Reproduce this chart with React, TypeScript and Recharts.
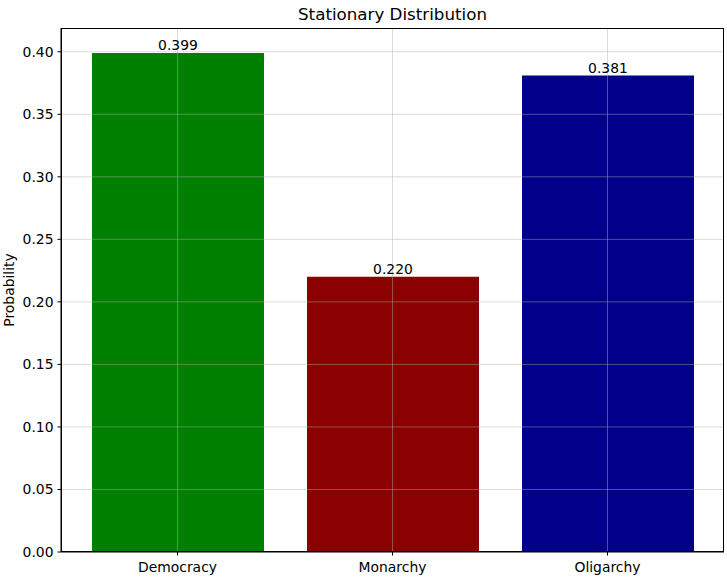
import { BarChart, Bar, XAxis, YAxis, Cell, LabelList, Label, ReferenceLine } from "recharts";

const states = ["Democracy", "Monarchy", "Oligarchy"];
const probabilities = [0.399, 0.22, 0.381];
const barColors = ["#008000", "#8b0000", "#00008b"];
const yTicks = [0, 0.05, 0.1, 0.15, 0.2, 0.25, 0.3, 0.35, 0.4];

const data = states.map((s, i) => ({ state: s, p: probabilities[i] }));

const FONT = "'DejaVu Sans', sans-serif";
const GRID = { stroke: "#b0b0b0", strokeOpacity: 0.45 };

export default function App() {
  return (
    <div style={{ position: "absolute", left: 0, top: 0, width: 727, height: 579, background: "#fff", fontFamily: FONT }}>
      {/* title */}
      <div
        style={{
          position: "absolute",
          left: 61,
          width: 663,
          top: 4,
          textAlign: "center",
          fontSize: 16.7,
          color: "#000",
          lineHeight: "20px",
        }}
      >
        Stationary Distribution
      </div>
      <BarChart
        width={727}
        height={579}
        data={data}
        margin={{ top: 28, right: 3, bottom: 0, left: 0 }}
        style={{ position: "absolute", left: 0, top: 0 }}
      >
        <XAxis
          dataKey="state"
          padding={{ left: 9, right: 9 }}
          height={27}
          tick={{ fontSize: 13.9, fill: "#000", fontFamily: FONT }}
          tickSize={3.5}
          tickMargin={7}
          tickLine={{ stroke: "#000" }}
          axisLine={{ stroke: "#000" }}
          interval={0}
        />
        <YAxis
          domain={[0, 0.419]}
          ticks={yTicks}
          width={61}
          allowDataOverflow
          tickFormatter={(v) => Number(v).toFixed(2)}
          tick={{ fontSize: 13.9, fill: "#000", fontFamily: FONT }}
          tickSize={3.5}
          tickMargin={4}
          tickLine={{ stroke: "#000" }}
          axisLine={{ stroke: "#000" }}
        >
          <Label
            value="Probability"
            angle={-90}
            position="insideLeft"
            offset={9}
            style={{ fontSize: 13.9, fill: "#000", fontFamily: FONT, textAnchor: "middle" }}
          />
        </YAxis>
        <Bar dataKey="p" barSize={172} isAnimationActive={false}>
          {data.map((_, i) => (
            <Cell key={i} fill={barColors[i]} />
          ))}
          <LabelList
            dataKey="p"
            position="top"
            offset={3}
            formatter={(v: any) => Number(v).toFixed(3)}
            style={{ fontSize: 13.9, fill: "#000", fontFamily: FONT }}
          />
        </Bar>
        {yTicks.slice(1).map((t) => (
          <ReferenceLine key={"y" + t} y={t} {...GRID} />
        ))}
        {states.map((s) => (
          <ReferenceLine key={"x" + s} x={s} {...GRID} />
        ))}
      </BarChart>
      {/* frame */}
      <div
        style={{
          position: "absolute",
          left: 61,
          top: 28,
          width: 663,
          height: 524,
          border: "1px solid #000",
          boxSizing: "border-box",
          pointerEvents: "none",
        }}
      />
    </div>
  );
}
